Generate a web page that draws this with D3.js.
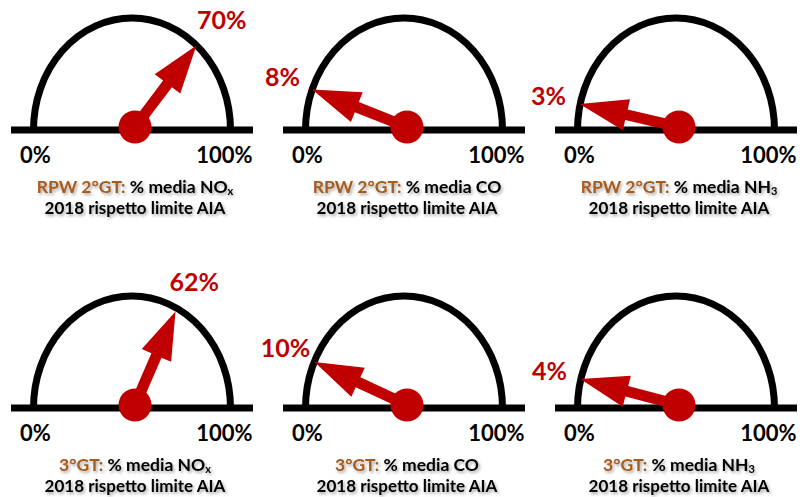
<!DOCTYPE html>
<html>
<head>
<meta charset="utf-8">
<script src="https://cdn.jsdelivr.net/npm/d3@7"></script>
<style>
  body { margin: 0; background: #fff; }
  svg { display: block; font-family: Lato, "Open Sans", sans-serif; font-weight: 700; }
</style>
</head>
<body>
<svg id="chart"></svg>
<script>
// Data
const plants = ["RPW 2°GT:", "3°GT:"];
const pollutantNames = ["NO", "CO", "NH"];
const pollutantSubs = ["x", "", "3"];
const valuesRPW = [70, 8, 3];
const values3GT = [62, 10, 4];
const tickLabels = ["0%", "100%"];
const noteText = "2018 rispetto limite AIA";

const W = 800, H = 497;
const svg = d3.select("#chart").attr("width", W).attr("height", H);

// soft shadow used on the captions
svg.append("defs").append("filter")
  .attr("id", "txtShadow")
  .attr("x", "-10%").attr("y", "-30%")
  .attr("width", "120%").attr("height", "160%")
  .append("feDropShadow")
  .attr("dx", 1.5).attr("dy", 2)
  .attr("stdDeviation", 1.4)
  .attr("flood-color", "#000")
  .attr("flood-opacity", 0.35);

// Layout scales
const colX = d3.scaleBand().domain(pollutantNames).range([-4, 812]);
const rowY = d3.scalePoint().domain(plants).range([130, 408]);
// needle sweep (degrees, counter-clockwise from the right)
const angle = d3.scaleLinear().domain([0, 100]).range([172, 2]);

const rx = 98.5, ry = 112, halfBase = 121;
const needleLen = 102, headLen = 48, headHalf = 16, shaftHalf = 5.5;
const red = "#C00000", brown = "#A55B1D";

const gauges = [];
plants.forEach((p, r) => {
  const vals = r === 0 ? valuesRPW : values3GT;
  pollutantNames.forEach((name, c) => {
    gauges.push({ plant: p, name: name, sub: pollutantSubs[c], value: vals[c] });
  });
});

const g = svg.selectAll("g.gauge")
  .data(gauges)
  .enter().append("g")
  .attr("class", "gauge")
  .attr("transform", d => `translate(${colX(d.name) + colX.bandwidth() / 2},${rowY(d.plant)})`);

// baseline
g.append("line")
  .attr("x1", -halfBase).attr("x2", halfBase)
  .attr("y1", 0).attr("y2", 0)
  .attr("stroke", "#000")
  .attr("stroke-width", 7);

// half ellipse
g.append("path")
  .attr("d", `M${-rx},0 A${rx},${ry} 0 0 1 ${rx},0`)
  .attr("fill", "none")
  .attr("stroke", "#000")
  .attr("stroke-width", 7);

// needle
const pivot = g.append("g")
  .attr("transform", "translate(3,-3)");

const arrowPts = [
  [0, -shaftHalf], [needleLen - headLen, -shaftHalf], [needleLen - headLen, -headHalf],
  [needleLen, 0], [needleLen - headLen, headHalf], [needleLen - headLen, shaftHalf], [0, shaftHalf]
];

pivot.append("path")
  .attr("d", d3.line()(arrowPts) + "Z")
  .attr("transform", d => `rotate(${-angle(d.value)})`)
  .attr("fill", red);

pivot.append("circle")
  .attr("r", 16.5)
  .attr("fill", red);

// value labels
pivot.append("text")
  .attr("x", d => 134 * Math.cos(angle(d.value) * Math.PI / 180) + (d.value > 50 ? 6 : 0))
  .attr("y", d => -134 * Math.sin(angle(d.value) * Math.PI / 180))
  .attr("dy", "0.35em")
  .attr("text-anchor", "middle")
  .attr("fill", red)
  .attr("font-size", "25px")
  .text(d => d.value + "%");

// 0% / 100%
g.append("text")
  .attr("x", -rx + 2).attr("y", 33)
  .attr("text-anchor", "middle")
  .attr("font-size", "22px")
  .attr("fill", "#000")
  .text(tickLabels[0]);

g.append("text")
  .attr("x", rx - 6).attr("y", 33)
  .attr("text-anchor", "middle")
  .attr("font-size", "22px")
  .attr("fill", "#000")
  .text(tickLabels[1]);

// captions
const cap = g.append("text")
  .attr("x", 3).attr("y", 63)
  .attr("text-anchor", "middle")
  .attr("font-size", "17.5px")
  .attr("filter", "url(#txtShadow)");

cap.append("tspan").attr("fill", brown).text(d => d.plant);
cap.append("tspan").attr("fill", "#000").text(d => " % media " + d.name);
cap.append("tspan")
  .attr("fill", "#000")
  .attr("font-size", "11px")
  .attr("dy", 2)
  .text(d => d.sub);

g.append("text")
  .attr("x", 3).attr("y", 84)
  .attr("text-anchor", "middle")
  .attr("font-size", "17px")
  .attr("fill", "#000")
  .attr("filter", "url(#txtShadow)")
  .text(noteText);
</script>
</body>
</html>
